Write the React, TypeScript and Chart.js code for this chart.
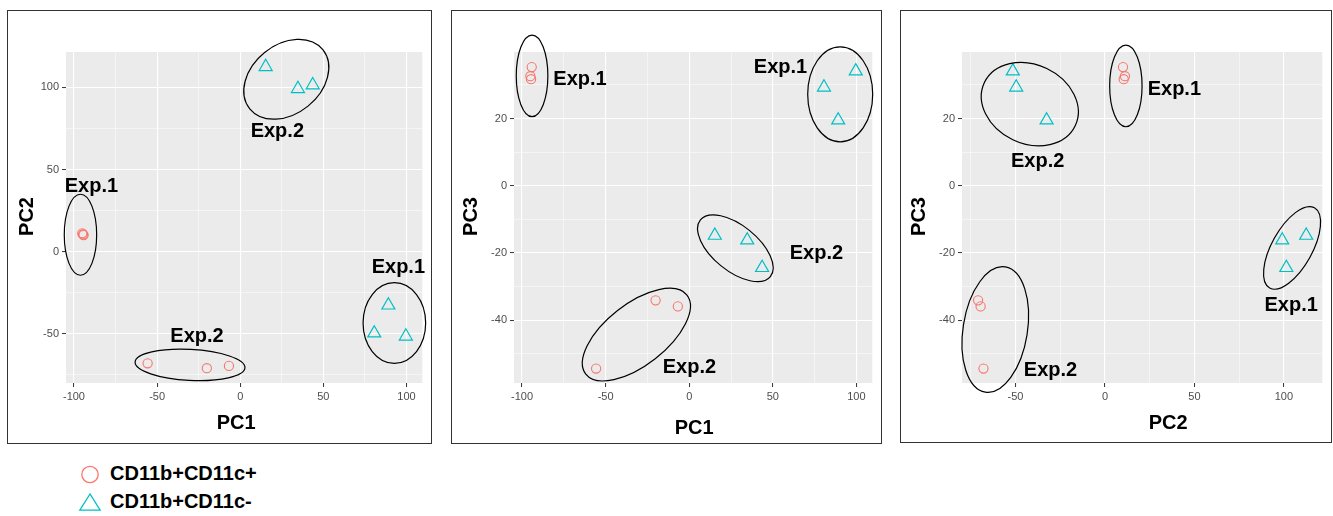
import React, { useEffect, useRef } from "react";
import { Chart, registerables } from "chart.js";
Chart.register(...registerables);

const FONT = "'Liberation Sans', Arial, Helvetica, sans-serif";
const RED = "#F8766D";
const TEAL = "#00BFC4";

// ---- data: PCA scores per sample ----
const SERIES_NAMES = ["CD11b+CD11c+", "CD11b+CD11c-"];
const POS_PC1 = [-94.2, -95.0, -94.6, -55.7, -20.1, -6.8];
const POS_PC2 = [10.1, 11.2, 10.5, -67.9, -70.9, -69.5];
const POS_PC3 = [35.3, 32.6, 31.7, -54.4, -34.1, -35.9];
const NEG_PC1 = [15.3, 34.7, 43.6, 80.6, 89.1, 99.6];
const NEG_PC2 = [112.5, 99.1, 101.4, -49.6, -32.6, -51.5];
const NEG_PC3 = [-14.8, -16.2, -24.4, 29.3, 19.5, 34.1];

// ---- axes ----
const PC1_MAJOR = [-100, -50, 0, 50, 100];
const PC1_MINOR = [-75, -25, 25, 75];
const PC2_MAJOR = [-50, 0, 50, 100];
const PC2_MINOR = [-75, -25, 25, 75];
const PC3_MAJOR = [-40, -20, 0, 20];
const PC3_MINOR = [-50, -30, -10, 10, 30];
const PC1_RANGE = [-104.8, 109.5];
const PC2_RANGE = [-79.9, 121.5];
const PC3_RANGE = [-58.7, 39.8];

// ---- annotations: [centerX, centerY (data), radiusX, radiusY (px), rotation deg] ----
type Ell = [number, number, number, number, number];
type Lab = [string, number, number];
const ELL_P1: Ell[] = [
  [-96.1, 10.3, 16.2, 40.5, 0],
  [-30.2, -68.9, 55, 15.5, 3],
  [27.7, 104.9, 47, 34.5, -39],
  [92.7, -43.4, 31.3, 40.3, 0],
];
const LAB_P1: Lab[] = [
  ["Exp.2", 22.3, 69.6],
  ["Exp.1", -89.5, 36.5],
  ["Exp.2", -26.0, -54.7],
  ["Exp.1", 95.1, -13.1],
];
const ELL_P2: Ell[] = [
  [-94.0, 32.7, 15.8, 40.8, 0],
  [90.3, 27.2, 32.5, 47.5, 0],
  [27.6, -18.6, 45, 22.7, 39],
  [-31.6, -44.3, 64.2, 30.6, -38],
];
const LAB_P2: Lab[] = [
  ["Exp.1", -65.3, 30.0],
  ["Exp.1", 54.6, 33.5],
  ["Exp.2", 76.1, -21.9],
  ["Exp.2", 0.1, -55.8],
];
const ELL_P3: Ell[] = [
  [-42.0, 24.3, 50.3, 39.5, 25.5],
  [11.7, 29.7, 16.2, 40.8, 0],
  [104.6, -18.5, 45.9, 20.2, -60.8],
  [-61.3, -42.8, 63.4, 32.2, -81],
];
const LAB_P3: Lab[] = [
  ["Exp.1", 38.8, 27.0],
  ["Exp.2", -37.6, 5.7],
  ["Exp.1", 104.1, -37.2],
  ["Exp.2", -30.4, -56.6],
];

type PanelDef = {
  box: [number, number, number, number]; // left, top, width, height (page)
  area: [number, number, number, number]; // chart area in canvas coords l,t,r,b
  xName: string;
  yName: string;
  xPos: number[];
  yPos: number[];
  xNeg: number[];
  yNeg: number[];
  xMajor: number[];
  xMinor: number[];
  yMajor: number[];
  yMinor: number[];
  xRange: number[];
  yRange: number[];
  ell: Ell[];
  lab: Lab[];
  titleDx: number;
  titleDy: number;
  yTitleDx: number;
};

const PANELS: PanelDef[] = [
  {
    box: [7, 10, 425, 434], area: [58, 41, 419, 372],
    xName: "PC1", yName: "PC2",
    xPos: POS_PC1, yPos: POS_PC2, xNeg: NEG_PC1, yNeg: NEG_PC2,
    xMajor: PC1_MAJOR, xMinor: PC1_MINOR, yMajor: PC2_MAJOR, yMinor: PC2_MINOR,
    xRange: PC1_RANGE, yRange: PC2_RANGE, ell: ELL_P1, lab: LAB_P1,
    titleDx: -8, titleDy: 46, yTitleDx: 33,
  },
  {
    box: [451, 10, 431, 434], area: [62, 41, 426, 372],
    xName: "PC1", yName: "PC3",
    xPos: POS_PC1, yPos: POS_PC3, xNeg: NEG_PC1, yNeg: NEG_PC3,
    xMajor: PC1_MAJOR, xMinor: PC1_MINOR, yMajor: PC3_MAJOR, yMinor: PC3_MINOR,
    xRange: PC1_RANGE, yRange: PC3_RANGE, ell: ELL_P2, lab: LAB_P2,
    titleDx: 1, titleDy: 51, yTitleDx: 37,
  },
  {
    box: [900, 10, 432, 433], area: [61, 41, 425, 372],
    xName: "PC2", yName: "PC3",
    xPos: POS_PC2, yPos: POS_PC3, xNeg: NEG_PC2, yNeg: NEG_PC3,
    xMajor: PC2_MAJOR, xMinor: PC2_MINOR, yMajor: PC3_MAJOR, yMinor: PC3_MINOR,
    xRange: PC2_RANGE, yRange: PC3_RANGE, ell: ELL_P3, lab: LAB_P3,
    titleDx: 26, titleDy: 46, yTitleDx: 37,
  },
];

const Y_AXIS_W = 50;
const X_AXIS_H = 30;

function scaleOpts(major: number[], minor: number[], range: number[], horizontal: boolean) {
  const all = [...major, ...minor].sort((a, b) => a - b);
  return {
    type: "linear" as const,
    min: range[0],
    max: range[1],
    afterBuildTicks: (s: any) => {
      s.ticks = all.map((v) => ({ value: v }));
    },
    afterFit: (s: any) => {
      if (horizontal) s.height = X_AXIS_H;
      else s.width = Y_AXIS_W;
    },
    ticks: {
      autoSkip: false,
      maxRotation: 0,
      minRotation: 0,
      padding: 3,
      color: "#4D4D4D",
      font: { family: FONT, size: 11 },
      callback: (v: any) => (major.includes(Number(v)) ? String(v) : ""),
    },
    grid: {
      color: "#FFFFFF",
      lineWidth: (c: any) => (c.tick && major.includes(c.tick.value) ? 1.1 : 0.5),
      tickColor: (c: any) => (c.tick && major.includes(c.tick.value) ? "#333333" : "rgba(0,0,0,0)"),
      tickLength: 4,
      tickWidth: 1,
    },
    border: { display: false },
  };
}

function Panel({ p }: { p: PanelDef }) {
  const ref = useRef<HTMLCanvasElement | null>(null);
  const cw = p.box[2] - 2;
  const ch = p.box[3] - 2;
  useEffect(() => {
    if (!ref.current) return;
    const decor = {
      id: "decor",
      beforeDraw(chart: any) {
        const { ctx, chartArea: a } = chart;
        ctx.save();
        ctx.fillStyle = "#EBEBEB";
        ctx.fillRect(a.left, a.top, a.right - a.left, a.bottom - a.top);
        ctx.restore();
      },
      afterDraw(chart: any) {
        const { ctx, chartArea: a } = chart;
        const xs = chart.scales.x;
        const ys = chart.scales.y;
        ctx.save();
        ctx.strokeStyle = "#000000";
        ctx.lineWidth = 1.2;
        for (const e of p.ell) {
          ctx.beginPath();
          ctx.ellipse(xs.getPixelForValue(e[0]), ys.getPixelForValue(e[1]), e[2], e[3], (e[4] * Math.PI) / 180, 0, Math.PI * 2);
          ctx.stroke();
        }
        ctx.fillStyle = "#000000";
        ctx.font = `bold 20px ${FONT}`;
        ctx.textAlign = "center";
        ctx.textBaseline = "alphabetic";
        for (const l of p.lab) {
          ctx.fillText(l[0], xs.getPixelForValue(l[1]), ys.getPixelForValue(l[2]));
        }
        // axis titles
        ctx.fillText(p.xName, (a.left + a.right) / 2 + p.titleDx, a.bottom + p.titleDy);
        ctx.translate(a.left - p.yTitleDx, (a.top + a.bottom) / 2 - 1);
        ctx.rotate(-Math.PI / 2);
        ctx.fillText(p.yName, 0, 0);
        ctx.restore();
      },
    };
    const chart = new Chart(ref.current, {
      type: "scatter",
      data: {
        datasets: [
          {
            label: SERIES_NAMES[0],
            data: p.xPos.map((x, i) => ({ x, y: p.yPos[i] })),
            pointStyle: "circle",
            pointRadius: 4.6,
            borderColor: RED,
            backgroundColor: "rgba(0,0,0,0)",
            borderWidth: 1.1,
          },
          {
            label: SERIES_NAMES[1],
            data: p.xNeg.map((x, i) => ({ x, y: p.yNeg[i] })),
            pointStyle: "triangle",
            pointRadius: 7.5,
            borderColor: TEAL,
            backgroundColor: "rgba(0,0,0,0)",
            borderWidth: 1.2,
          },
        ],
      },
      options: {
        animation: false,
        responsive: false,
        events: [],
        layout: {
          padding: {
            left: p.area[0] - Y_AXIS_W,
            top: p.area[1],
            right: cw - p.area[2],
            bottom: ch - p.area[3] - X_AXIS_H,
          },
        },
        plugins: { legend: { display: false }, tooltip: { enabled: false }, title: { display: false } },
        scales: {
          x: scaleOpts(p.xMajor, p.xMinor, p.xRange, true) as any,
          y: scaleOpts(p.yMajor, p.yMinor, p.yRange, false) as any,
        },
      },
      plugins: [decor],
    });
    return () => chart.destroy();
  }, []);
  return (
    <div
      style={{
        position: "absolute",
        left: p.box[0],
        top: p.box[1],
        width: p.box[2],
        height: p.box[3],
        border: "1px solid #333333",
        boxSizing: "border-box",
        background: "#FFFFFF",
      }}
    >
      <canvas ref={ref} width={cw} height={ch} style={{ display: "block", width: cw, height: ch }} />
    </div>
  );
}

export default function App() {
  return (
    <div style={{ position: "absolute", left: 0, top: 0, width: 1333, height: 516, background: "#FFFFFF", overflow: "hidden" }}>
      {PANELS.map((p, i) => (
        <Panel key={i} p={p} />
      ))}
      <svg style={{ position: "absolute", left: 0, top: 455 }} width={320} height={61} viewBox="0 455 320 61">
        <circle cx={90} cy={474.5} r={8.2} fill="none" stroke={RED} strokeWidth={1.3} />
        <text x={110} y={480} fontFamily={FONT} fontWeight="bold" fontSize={20} fill="#000">
          {SERIES_NAMES[0]}
        </text>
        <polygon points="90,494 79.8,510.2 100.2,510.2" fill="none" stroke={TEAL} strokeWidth={1.3} />
        <text x={110} y={508.3} fontFamily={FONT} fontWeight="bold" fontSize={20} fill="#000">
          {SERIES_NAMES[1]}
        </text>
      </svg>
    </div>
  );
}
